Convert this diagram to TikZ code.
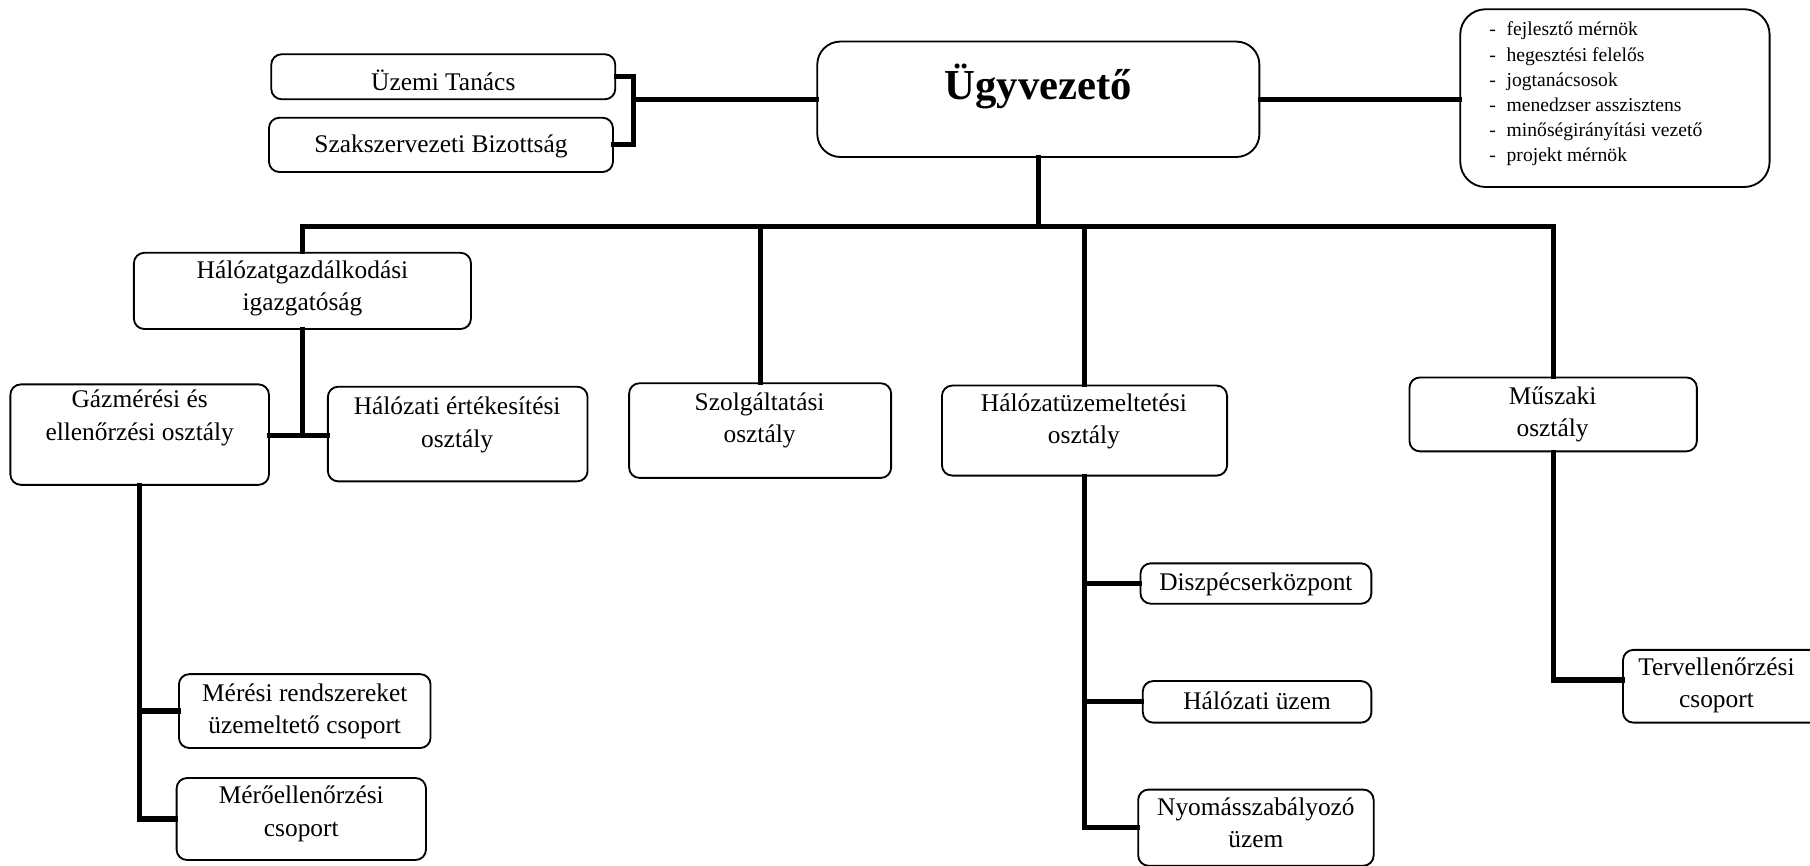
\documentclass[tikz,border=0pt]{standalone}
\usepackage{fontspec}
\setmainfont{Liberation Serif}
\begin{document}
\begin{tikzpicture}[x=1pt,y=-1pt,
  box/.style={draw=black,line width=1.6pt,rounded corners=9pt,inner sep=0pt},
  txt/.style={align=center,inner sep=0pt,font=\fontsize{22}{28}\selectfont},
  conn/.style={line width=4.5pt,line cap=rect}]
\useasboundingbox (0,0) rectangle (1568,750);
\clip (0,0) rectangle (1568,750);
% boxes: (left,top) rectangle (right,bottom)
\newcommand{\mybox}[5]{\node[box,minimum width={#4-#2},minimum height={#5-#3}] (#1) at ({(#2+#4)/2},{(#3+#5)/2}) {};}
\mybox{uzemi}{235}{47}{533}{86}
\mybox{szak}{233}{102}{531}{149}
\node[box,rounded corners=20pt,minimum width=383,minimum height=100] (ugy) at (899.5,86) {};
\node[box,rounded corners=22pt,minimum width=268,minimum height=154] (list) at (1399,85) {};
\mybox{hg}{116}{219}{408}{285}
\mybox{gaz}{9}{333}{233}{420}
\mybox{her}{284}{335}{509}{417}
\mybox{szolg}{545}{332}{772}{414}
\mybox{hu}{816}{334}{1063}{412}
\mybox{musz}{1221}{327}{1470}{391}
\mybox{mer}{155}{584}{373}{648}
\mybox{mero}{153}{674}{369}{745}
\mybox{disp}{988}{488}{1188}{523}
\mybox{hal}{990}{590}{1188}{626}
\mybox{nyom}{986}{684}{1190}{750}
\mybox{terv}{1406}{563}{1600}{626}
% texts
\node[txt] (tuzemi) at (384,70) {Üzemi Tanács};
\node[txt] (tszak) at (382,127) {Szakszervezeti Bizottság};
\node[inner sep=0pt,font=\bfseries\fontsize{37}{44}\selectfont] (tugy) at (899.5,75) {Ügyvezető};
\node[anchor=north west,inner sep=0pt,align=left,font=\fontsize{17}{21.8}\selectfont] (tlist) at (1290,19)
 {\makebox[15pt][l]{-}fejlesztő mérnök\\
  \makebox[15pt][l]{-}hegesztési felelős\\
  \makebox[15pt][l]{-}jogtanácsosok\\
  \makebox[15pt][l]{-}menedzser asszisztens\\
  \makebox[15pt][l]{-}minőségirányítási vezető\\
  \makebox[15pt][l]{-}projekt mérnök};
\node[txt] (thg) at (262,250) {Hálózatgazdálkodási\\igazgatóság};
\node[txt] (tgaz) at (121,362) {Gázmérési és\\ellenőrzési osztály};
\node[txt] (ther) at (396,368) {Hálózati értékesítési\\osztály};
\node[txt] (tszolg) at (658,364) {Szolgáltatási\\osztály};
\node[txt] (thu) at (939,365) {Hálózatüzemeltetési\\osztály};
\node[txt] (tmusz) at (1345,359) {Műszaki\\osztály};
\node[txt] (tmer) at (264,616) {Mérési rendszereket\\üzemeltető csoport};
\node[txt] (tmero) at (261,705) {Mérőellenőrzési\\csoport};
\node[txt] (tdisp) at (1088,506) {Diszpécserközpont};
\node[txt] (thal) at (1089,607) {Hálózati üzem};
\node[txt] (tnyom) at (1088,713) {Nyomásszabályozó\\üzem};
\node[txt] (tterv) at (1487,594) {Tervellenőrzési\\csoport};
% connectors
\coordinate (brk) at (549,86);
\draw[conn] (uzemi.east) -| (brk) |- (szak.east);
\draw[conn] (brk) -- (ugy.west);
\draw[conn] (ugy.east) -- (ugy.east -| list.west);
\coordinate (bus) at (262,196);
\draw[conn] (ugy.south) -- (ugy.south |- bus);
\draw[conn] (hg.north) -- (hg.north |- bus) -- (musz.north |- bus) -- (musz.north);
\draw[conn] (szolg.north) -- (szolg.north |- bus);
\draw[conn] (hu.north) -- (hu.north |- bus);
\coordinate (j1) at (262,377);
\draw[conn] (hg.south) -- (j1);
\draw[conn] (gaz.east |- j1) -- (her.west |- j1);
\draw[conn] (gaz.south) |- (mero.west);
\draw[conn] (gaz.south |- mer.west) -- (mer.west);
\draw[conn] (hu.south) |- (nyom.west);
\draw[conn] (hu.south |- disp.west) -- (disp.west);
\draw[conn] (hu.south |- hal.west) -- (hal.west);
\coordinate (tj) at (1406,589);
\draw[conn] (musz.south) |- (terv.west |- tj);
\end{tikzpicture}
\end{document}
